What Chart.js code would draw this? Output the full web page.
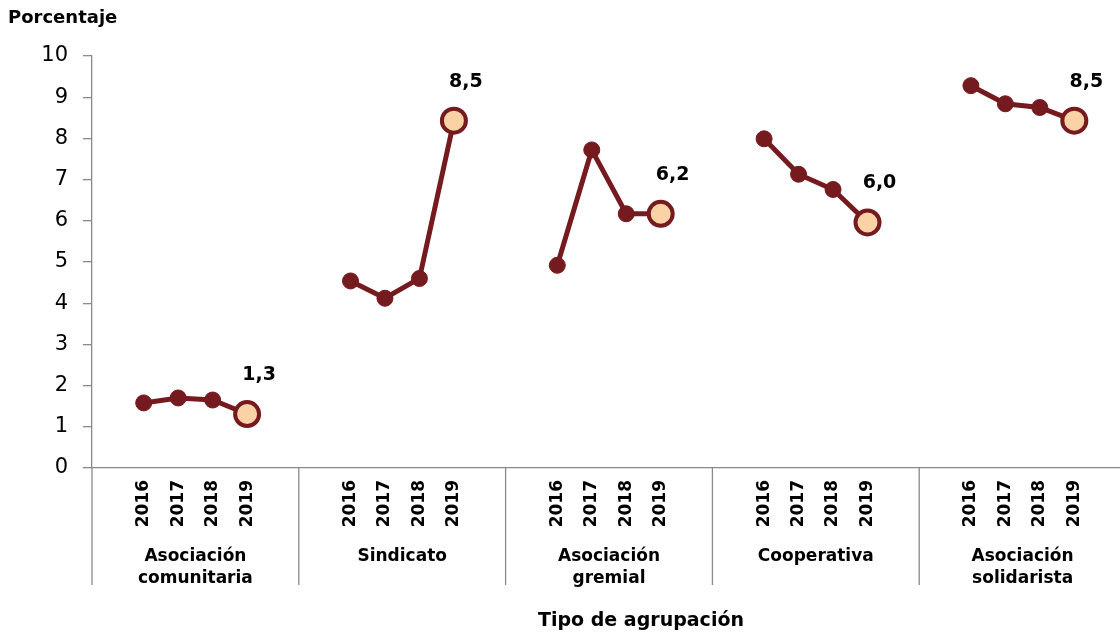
<!DOCTYPE html>
<html>
  <head>
    <title>Porcentaje por tipo de agrupación</title>
    <script src="https://cdn.jsdelivr.net/npm/chart.js"></script>
    <style>
      body {
        margin: 0;
        background-color: #ffffff;
      }
      #frame {
        width: 1120px;
        height: 633px;
        overflow: hidden;
      }
      /* plot runs slightly past the right edge, like the original */
      #wrap {
        width: 1135px;
        height: 633px;
        position: relative;
      }
    </style>
  </head>
  <body>
    <div id="frame">
      <div id="wrap">
        <canvas id="lineChart"></canvas>
      </div>
    </div>

    <script>
      // Data
      const groupNames = [
        ["Asociación", "comunitaria"],
        ["Sindicato"],
        ["Asociación", "gremial"],
        ["Cooperativa"],
        ["Asociación", "solidarista"],
      ];
      const years = ["2016", "2017", "2018", "2019"];
      const comunitaria = [1.58, 1.7, 1.65, 1.31];
      const sindicato = [4.54, 4.12, 4.6, 8.43];
      const gremial = [4.92, 7.72, 6.17, 6.17];
      const cooperativa = [7.99, 7.13, 6.76, 5.96];
      const solidarista = [9.28, 8.84, 8.75, 8.43];
      const lastLabels = ["1,3", "8,5", "6,2", "6,0", "8,5"];
      const yTicks = [0, 1, 2, 3, 4, 5, 6, 7, 8, 9, 10];

      const lineColor = "#751a1f";
      const lastFill = "#fbd1a6";
      const axisColor = "#898989";
      const font = "'DejaVu Sans', Verdana, sans-serif";

      // each group: blank slot, four years, blank slot
      const series = [comunitaria, sindicato, gremial, cooperativa, solidarista];
      const labels = [];
      const values = [];
      series.forEach((s) => {
        labels.push("");
        values.push(null);
        years.forEach((y, i) => {
          labels.push(y);
          values.push(s[i]);
        });
        labels.push("");
        values.push(null);
      });

      const isLast = (ctx) => ctx.dataIndex % 6 === 4;

      const decorations = {
        id: "decorations",
        afterDraw(chart) {
          const ctx = chart.ctx;
          const x = chart.scales.x;
          const area = chart.chartArea;
          ctx.save();

          // group separators below the axis
          ctx.strokeStyle = axisColor;
          ctx.lineWidth = 1.3;
          const lineBottom = area.bottom + 117;
          const bounds = [area.left];
          for (let g = 1; g < groupNames.length; g++) {
            bounds.push(
              (x.getPixelForValue(g * 6 - 1) + x.getPixelForValue(g * 6)) / 2
            );
          }
          bounds.forEach((bx) => {
            ctx.beginPath();
            ctx.moveTo(bx, area.bottom);
            ctx.lineTo(bx, lineBottom);
            ctx.stroke();
          });

          // group names
          ctx.fillStyle = "#000";
          ctx.font = "bold 17px " + font;
          ctx.textAlign = "center";
          ctx.textBaseline = "middle";
          groupNames.forEach((lines, g) => {
            const cx =
              (x.getPixelForValue(g * 6 + 2) + x.getPixelForValue(g * 6 + 3)) / 2;
            lines.forEach((t, k) => {
              ctx.fillText(t, cx, area.bottom + 89 + k * 22);
            });
          });

          // labels over the 2019 points
          const meta = chart.getDatasetMeta(0);
          ctx.font = "bold 19px " + font;
          series.forEach((s, g) => {
            const pt = meta.data[g * 6 + 4];
            ctx.fillText(lastLabels[g], pt.x + 12, pt.y - 39);
          });

          // axis titles
          ctx.font = "bold 18px " + font;
          ctx.textAlign = "left";
          ctx.fillText("Porcentaje", 8, 18);
          ctx.font = "bold 19px " + font;
          ctx.textAlign = "center";
          ctx.fillText("Tipo de agrupación", 641, chart.height - 12);
          ctx.restore();
        },
      };

      new Chart(document.getElementById("lineChart"), {
        type: "line",
        data: {
          labels: labels,
          datasets: [
            {
              data: values,
              spanGaps: false,
              borderColor: lineColor,
              borderWidth: 5,
              pointRadius: (ctx) => (isLast(ctx) ? 12 : 8),
              pointBorderWidth: (ctx) => (isLast(ctx) ? 4 : 1),
              pointBackgroundColor: (ctx) => (isLast(ctx) ? lastFill : lineColor),
              pointBorderColor: lineColor,
              pointHoverRadius: (ctx) => (isLast(ctx) ? 12 : 8),
            },
          ],
        },
        options: {
          responsive: true,
          maintainAspectRatio: false,
          animation: false,
          layout: { padding: { top: 56, right: 0, left: 0, bottom: 0 } },
          plugins: {
            legend: { display: false },
            tooltip: { enabled: false },
          },
          scales: {
            x: {
              type: "category",
              offset: true,
              afterFit: (scale) => {
                scale.height = 165;
              },
              grid: { display: false },
              border: { display: true, color: axisColor, width: 1.3 },
              ticks: {
                autoSkip: false,
                maxRotation: 90,
                minRotation: 90,
                padding: 4,
                color: "#000",
                font: { family: font, size: 17, weight: "bold" },
              },
            },
            y: {
              min: 0,
              max: 10,
              afterFit: (scale) => {
                scale.width = 92;
              },
              afterBuildTicks: (scale) => {
                scale.ticks = yTicks.map((v) => ({ value: v }));
              },
              grid: {
                drawOnChartArea: false,
                drawTicks: true,
                tickLength: 9,
                color: axisColor,
                lineWidth: 1.3,
              },
              border: { display: true, color: axisColor, width: 1.3 },
              ticks: {
                padding: 15,
                color: "#000",
                font: { family: font, size: 21 },
              },
            },
          },
        },
        plugins: [decorations],
      });
    </script>
  </body>
</html>
